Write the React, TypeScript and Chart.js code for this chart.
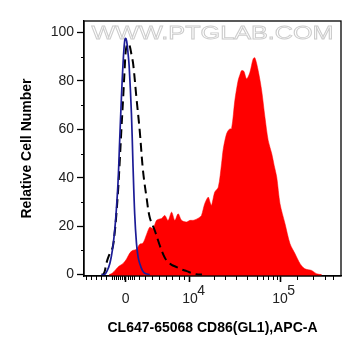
import React, { useEffect, useRef } from 'react';
import { Chart, registerables } from 'chart.js';

Chart.register(...registerables);

const FONT = '"Liberation Sans", Arial, Helvetica, sans-serif';

// X values are display channels of a biexponential (logicle-like) axis, 0..1024
const blueChannels = [70, 82, 92, 103, 113, 122, 129, 136, 142, 149, 156, 162, 166, 170, 175, 180, 189, 195, 202, 209, 216, 222, 232, 242, 262];
const blueCounts = [0, 0, 1.5, 4.6, 10, 18, 27, 39, 55, 73, 88, 96.5, 97.6, 96.5, 92, 86, 66.6, 46, 25, 13, 7, 4.6, 1.8, 0.5, 0];

const dashChannels = [70, 76, 83, 89, 100, 114, 122, 129, 136, 142, 149, 156, 162, 166, 171, 176, 182, 189, 196, 209, 222, 235, 249, 262, 282, 302, 315, 329, 349, 369, 389, 409, 430, 448, 470];
const dashCounts = [0, 0, 1.5, 4.6, 8, 11.2, 17, 25, 35, 46, 60, 73, 85, 92, 95, 95.5, 94.6, 91, 87, 73, 59.5, 43, 32, 23.6, 18.2, 12, 8.5, 5.8, 4, 3.1, 2.1, 1.4, 0.6, 0.1, 0];

const redChannels = [100, 112, 126, 140, 156, 170, 183, 195, 209, 222, 235, 249, 262, 275, 289, 302, 309, 322, 335, 349, 362, 375, 389, 408, 422, 435, 450, 461, 468, 481, 495, 502, 508, 521, 535, 548, 555, 568, 578, 588, 601, 614, 621, 628, 637, 648, 661, 674, 681, 694, 708, 721, 734, 748, 758, 768, 781, 801, 821, 841, 861, 880, 907, 927, 947];
const redCounts = [0, 0.5, 2, 3.5, 4.6, 6.5, 9, 10, 10.5, 12.5, 13, 16.5, 19.6, 19, 22.4, 23, 23.2, 24.4, 22.4, 25.8, 22.4, 25.1, 22.4, 21.7, 22.4, 22.4, 23, 23.7, 24.4, 29.3, 32, 30, 28.6, 34.1, 36.1, 45.8, 52, 58.2, 60, 60.4, 72, 80.2, 82.5, 84.3, 84, 80.9, 83.6, 89.2, 89.6, 84.3, 76, 65, 55.4, 50, 45, 40.2, 29.3, 21, 12.7, 8.6, 4.5, 2.4, 1.7, 0.3, 0];

const xMajorTicks = [166, 422, 781];
const xMajorLabels = ['0', '10', '10'];
const xMajorExponents = ['', '4', '5'];
const xMinorTicks = [7, 27, 47, 67, 87, 110, 118, 126, 134, 142, 150, 158, 174, 182, 190, 198, 218, 245, 271, 298, 325, 351, 378, 398, 517, 561, 605, 648, 688, 714, 734, 754, 768, 848, 912, 960, 992];
const yTicks = [0, 10, 20, 30, 40, 50, 60, 70, 80, 90, 100];

const xTitle = 'CL647-65068 CD86(GL1),APC-A';
const yTitle = 'Relative Cell Number';
const watermark = 'WWW.PTGLAB.COM';

const toPoints = (xs: number[], ys: number[]) => xs.map((x, i) => ({ x, y: ys[i] }));

const decorPlugin = {
  id: 'decor',
  beforeDatasetsDraw(chart: any) {
    const { ctx, chartArea: a } = chart;
    ctx.save();
    ctx.translate((a.left + a.right) / 2, a.top + 13);
    ctx.scale(1.4, 1);
    ctx.font = `18px ${FONT}`;
    ctx.textAlign = 'center';
    ctx.textBaseline = 'middle';
    ctx.strokeStyle = '#cccccc';
    ctx.lineWidth = 0.8;
    ctx.strokeText(watermark, 0, 0);
    ctx.restore();
  },
  afterDraw(chart: any) {
    const { ctx, chartArea: a, scales } = chart;
    const x = scales.x;
    const y = scales.y;
    ctx.save();
    ctx.strokeStyle = '#000';
    ctx.lineWidth = 1.3;
    ctx.strokeRect(a.left, a.top, a.right - a.left, a.bottom - a.top);
    ctx.lineWidth = 1;
    ctx.beginPath();
    xMinorTicks.forEach((v) => {
      const px = Math.round(x.getPixelForValue(v)) + 0.5;
      ctx.moveTo(px, a.bottom);
      ctx.lineTo(px, a.bottom + 4);
    });
    yTicks.forEach((v) => {
      if (v % 20 !== 0) {
        const py = Math.round(y.getPixelForValue(v)) + 0.5;
        ctx.moveTo(a.left, py);
        ctx.lineTo(a.left - 3, py);
      }
    });
    ctx.stroke();
    // exponents of the decade labels
    ctx.font = `14px ${FONT}`;
    ctx.fillStyle = '#222';
    ctx.textBaseline = 'middle';
    ctx.textAlign = 'left';
    const w = ctx.measureText('10').width;
    const yMid = x.top + 6 + 9 + 8.4;
    xMajorTicks.forEach((v, i) => {
      const e = xMajorExponents[i];
      if (!e) return;
      const px = x.getPixelForValue(v);
      ctx.fillText(e, px + w / 2 - 0.5, yMid - 8.5);
    });
    ctx.restore();
  },
};

export default function App() {
  const ref = useRef<HTMLCanvasElement | null>(null);
  useEffect(() => {
    if (!ref.current) return;
    const chart = new Chart(ref.current, {
      type: 'line',
      data: {
        datasets: [
          {
            label: 'blue',
            data: toPoints(blueChannels, blueCounts),
            borderColor: '#1c1c96',
            borderWidth: 1.7,
            pointRadius: 0,
            fill: false,
            tension: 0.35,
            order: 1,
          },
          {
            label: 'dashed',
            data: toPoints(dashChannels, dashCounts),
            borderColor: '#000',
            borderWidth: 2,
            borderDash: [9, 5],
            pointRadius: 0,
            fill: false,
            tension: 0.35,
            order: 2,
          },
          {
            label: 'red',
            data: toPoints(redChannels, redCounts),
            borderColor: '#ff0000',
            backgroundColor: '#ff0000',
            borderWidth: 0.5,
            pointRadius: 0,
            fill: 'start',
            tension: 0.3,
            order: 3,
          },
        ],
      },
      options: {
        animation: false,
        responsive: true,
        maintainAspectRatio: false,
        layout: { padding: { left: 0, right: 20, top: 21, bottom: 0 } },
        plugins: { legend: { display: false }, tooltip: { enabled: false } },
        scales: {
          x: {
            type: 'linear',
            min: 0,
            max: 1024,
            afterBuildTicks: (s: any) => {
              s.ticks = xMajorTicks.map((v) => ({ value: v }));
            },
            afterFit: (s: any) => {
              s.height = 80;
            },
            border: { display: true, color: '#000', width: 1.3 },
            grid: { display: true, drawOnChartArea: false, drawTicks: true, tickLength: 6, tickWidth: 1.6, tickColor: '#000' },
            ticks: {
              autoSkip: false,
              maxRotation: 0,
              padding: 9,
              color: '#222',
              font: { family: FONT, size: 14 },
              callback: (v: any) => {
                const i = xMajorTicks.indexOf(Number(v));
                return i >= 0 ? xMajorLabels[i] : '';
              },
            },
            title: {
              display: true,
              text: xTitle,
              color: '#000',
              font: { family: FONT, size: 14, weight: 'bold' },
              padding: { top: 0, bottom: 19.6 },
            },
          },
          y: {
            type: 'linear',
            min: -0.6,
            max: 104.8,
            afterBuildTicks: (s: any) => {
              s.ticks = yTicks.map((v) => ({ value: v }));
            },
            afterFit: (s: any) => {
              s.width = 84;
            },
            border: { display: true, color: '#000', width: 1.3 },
            grid: {
              display: true,
              drawOnChartArea: false,
              drawTicks: true,
              tickLength: 7,
              tickWidth: 1.3,
              tickColor: (c: any) => (c.tick && c.tick.value % 20 === 0 ? '#000' : 'rgba(0,0,0,0)'),
            },
            ticks: {
              autoSkip: false,
              padding: 3,
              color: '#222',
              font: { family: FONT, size: 14 },
              callback: (v: any) => (Number(v) % 20 === 0 ? String(v) : ''),
            },
            title: {
              display: true,
              text: yTitle,
              color: '#000',
              font: { family: FONT, size: 14, weight: 'bold' },
              padding: { top: 19, bottom: 0 },
            },
          },
        },
      },
      plugins: [decorPlugin],
    });
    return () => chart.destroy();
  }, []);
  return (
    <div style={{ position: 'fixed', left: 0, top: 0, width: 361, height: 356, background: '#fff' }}>
      <canvas ref={ref} />
    </div>
  );
}
